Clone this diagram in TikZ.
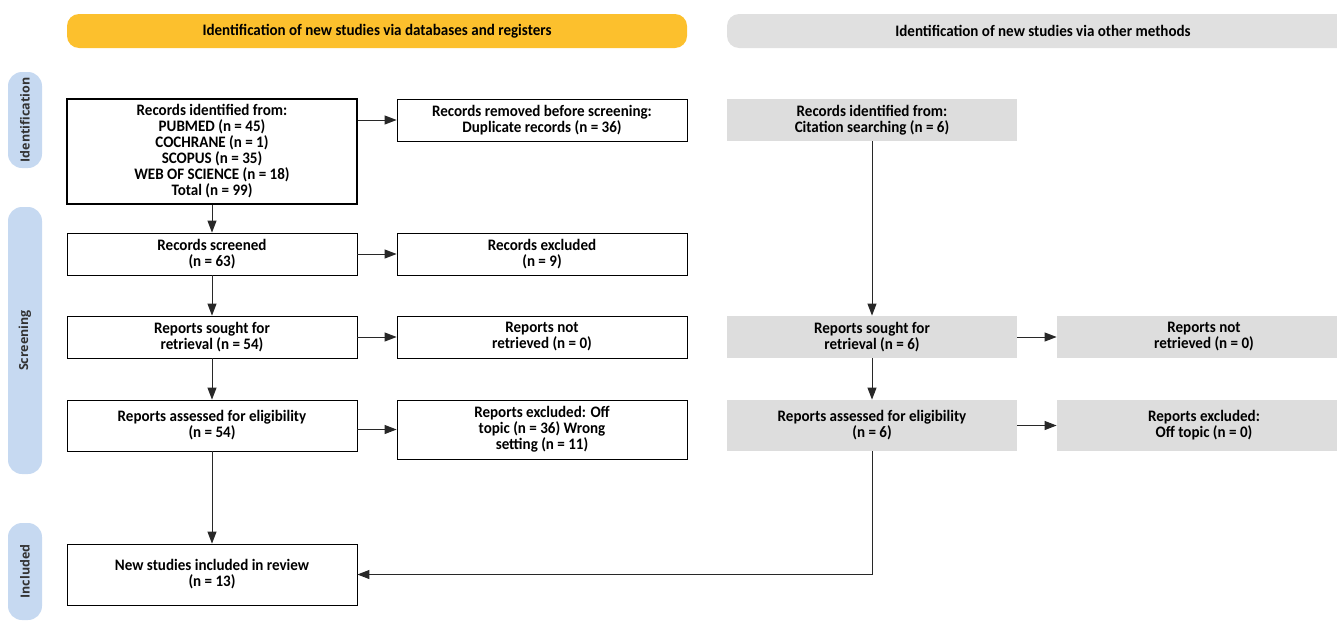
\documentclass[tikz,border=0pt]{standalone}
\usepackage{fontspec}
\setmainfont{Carlito}[FakeStretch=0.94]
\newfontfamily\sidefont{Open Sans}
\usetikzlibrary{arrows.meta}
\definecolor{bannerYellow}{RGB}{252,192,45}
\definecolor{bannerGrey}{RGB}{224,224,224}
\definecolor{boxGrey}{RGB}{221,221,221}
\definecolor{sideBlue}{RGB}{198,217,241}
\definecolor{lineGrey}{RGB}{40,40,40}
\tikzset{
  banner/.style={rounded corners=12pt, minimum height=34pt, inner sep=0pt,
    font=\bfseries\fontsize{16}{16}\selectfont},
  side/.style={fill=sideBlue, rounded corners=14pt, rotate=90, minimum height=34pt,
    inner sep=0pt, text=black!80, font=\sidefont\bfseries\fontsize{12.5}{14}\selectfont},
  rec/.style={draw=black, line width=0.8pt, minimum width=290pt, minimum height=42pt,
    inner sep=2pt, align=center, font=\bfseries\fontsize{16}{16}\selectfont},
  grey/.style={rec, draw=none, fill=boxGrey},
  flow/.style={-{Triangle[length=12pt,width=9pt]}, draw=lineGrey, line width=1pt}
}
\begin{document}
\begin{tikzpicture}[x=1pt,y=-1pt]
\useasboundingbox (0,0) rectangle (1337,624);
\node[banner, fill=bannerYellow, minimum width=620pt] (HL) at (377,31)
{Identification of new studies via databases and registers};
\node[banner, fill=bannerGrey, minimum width=632pt] (HR) at (1043,31)
{Identification of new studies via other methods};

\node[side, minimum width=96pt] (SI) at (25,120) {Identification};
\node[side, minimum width=267pt] (SS) at (25,340.5) {Screening};
\node[side, minimum width=97pt] (SN) at (25,571.5) {Included};

\node[rec, line width=2.6pt, minimum height=105pt] (ID) at (212,151.5)
{Records identified from:\\ PUBMED (n = 45)\\ COCHRANE (n = 1)\\ SCOPUS (n = 35)\\
WEB OF SCIENCE (n = 18)\\ Total (n = 99)};
\node[rec] (DUP) at (542,120)
{Records removed before screening:\\ Duplicate records (n = 36)};
\node[grey] (CIT) at (872,120)
{Records identified from:\\ Citation searching (n = 6)};

\node[rec] (SCR) at (212,254) {Records screened\\ (n = 63)};
\node[rec] (EXC) at (542,254) {Records excluded\\ (n = 9)};

\node[rec] (SGT) at (212,337) {Reports sought for\\ retrieval (n = 54)};
\node[rec] (NRT) at (542,337) {Reports not\\ retrieved (n = 0)};
\node[grey] (SGO) at (872,337) {Reports sought for\\ retrieval (n = 6)};
\node[grey, minimum width=294pt] (NRO) at (1204,337) {Reports not\\ retrieved (n = 0)};

\node[rec, minimum height=51pt] (ASD) at (212,425.5)
{Reports assessed for eligibility\\ (n = 54)};
\node[rec, minimum height=59pt] (EXD) at (542,429.5)
{Reports excluded: Off\\ topic (n = 36) Wrong\\ setting (n = 11)};
\node[grey, minimum height=51pt] (ASO) at (872,425.5)
{Reports assessed for eligibility\\ (n = 6)};
\node[grey, minimum width=294pt, minimum height=51pt] (EXO) at (1204,425.5)
{Reports excluded:\\ Off topic (n = 0)};

\node[rec, minimum height=61pt] (INC) at (212,574.5)
{New studies included in review\\ (n = 13)};

\draw[flow] (ID.east |- DUP.west) -- (DUP.west);
\draw[flow] (ID) -- (SCR);
\draw[flow] (SCR) -- (EXC);
\draw[flow] (SCR) -- (SGT);
\draw[flow] (SGT) -- (NRT);
\draw[flow] (SGT) -- (ASD);
\draw[flow] (ASD.east |- EXD.west) -- (EXD.west);
\draw[flow] (ASD) -- (INC);
\draw[flow] (CIT) -- (SGO);
\draw[flow] (SGO) -- (NRO);
\draw[flow] (SGO) -- (ASO);
\draw[flow] (ASO) -- (EXO);
\draw[flow] (ASO.south) |- (INC.east);
\end{tikzpicture}
\end{document}
